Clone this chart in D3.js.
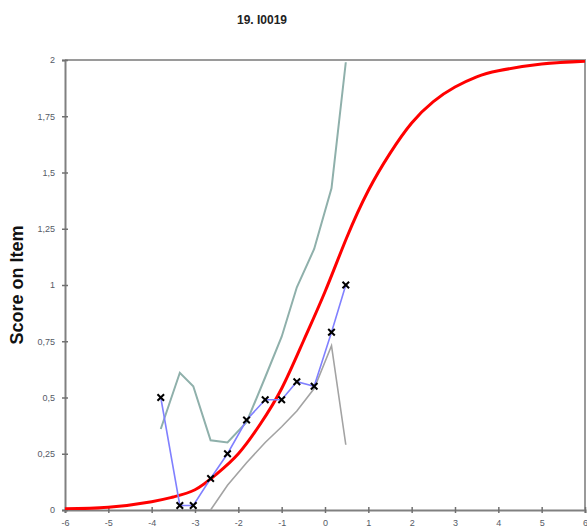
<!DOCTYPE html>
<html>
<head>
<meta charset="utf-8">
<script src="https://cdn.jsdelivr.net/npm/d3@7"></script>
<style>
  body { margin: 0; background: #fff; }
  svg { display: block; font-family: Arial, "Liberation Sans", sans-serif; }
</style>
</head>
<body>
<svg id="chart"></svg>
<script>
const width = 587
const height = 532

// Expected score curve (model)
const curveX = [-6, -5, -4, -3.5, -3, -2.5, -2, -1.5, -1, -0.5, 0, 0.5, 1, 1.5, 2, 2.5, 3, 3.5, 4, 5, 6]
const curveY = [0.005, 0.012, 0.037, 0.058, 0.09, 0.16, 0.25, 0.38, 0.54, 0.75, 0.97, 1.21, 1.42, 1.585, 1.72, 1.815, 1.88, 1.925, 1.952, 1.982, 1.995]

// Observed class intervals
const obsX = [-3.79, -3.35, -3.04, -2.64, -2.25, -1.81, -1.38, -1.0, -0.65, -0.25, 0.15, 0.48]
const obsY = [0.5, 0.02, 0.02, 0.14, 0.25, 0.40, 0.49, 0.49, 0.57, 0.55, 0.79, 1.0]
const upperY = [0.36, 0.61, 0.55, 0.31, 0.30, 0.39, 0.59, 0.77, 0.99, 1.16, 1.43, 1.99]
const lowerY = [0, 0, 0, 0, 0.11, 0.21, 0.30, 0.37, 0.44, 0.54, 0.73, 0.29]

const xTicks = [-6, -5, -4, -3, -2, -1, 0, 1, 2, 3, 4, 5, 6]
const yTicks = [0, 0.25, 0.5, 0.75, 1, 1.25, 1.5, 1.75, 2]

const margin = { top: 60, right: 2, bottom: 22, left: 65 }

const svg = d3.select('#chart')
  .attr('width', width)
  .attr('height', height)

const x = d3.scaleLinear().domain([-6, 6]).range([margin.left, width - margin.right])
const y = d3.scaleLinear().domain([0, 2]).range([height - margin.bottom, margin.top])

const fmt = d => String(d).replace('.', ',')

svg.append('defs').append('clipPath').attr('id', 'plot')
  .append('rect')
  .attr('x', x(-6)).attr('y', y(2))
  .attr('width', x(6) - x(-6)).attr('height', y(0) - y(2))

// frame (top and right)
svg.append('path')
  .attr('d', `M${x(-6)},${y(2)}H${x(6)}V${y(0)}`)
  .attr('fill', 'none')
  .attr('stroke', '#9a9a9a')
  .attr('stroke-width', 2)

// Axes
const xAxis = svg.append('g')
  .attr('transform', `translate(0,${y(0)})`)
  .call(d3.axisBottom(x).tickValues(xTicks).tickFormat(d => d).tickSize(3).tickPadding(7))
const yAxis = svg.append('g')
  .attr('transform', `translate(${x(-6)},0)`)
  .call(d3.axisLeft(y).tickValues(yTicks).tickFormat(fmt).tickSize(3).tickPadding(7))

;[xAxis, yAxis].forEach(a => {
  a.select('.domain').attr('stroke', '#808080').attr('stroke-width', 2)
  a.selectAll('.tick line').attr('stroke', '#707070').attr('stroke-width', 1.5)
  a.selectAll('.tick text').attr('fill', '#555a66').attr('font-size', 9)
})
xAxis.selectAll('.tick line').attr('y1', -3)
yAxis.selectAll('.tick line').attr('x1', 3)

const g = svg.append('g').attr('clip-path', 'url(#plot)')

const line = d3.line().x(d => x(d[0])).y(d => y(d[1]))

g.append('path')
  .datum(obsX.map((d, i) => [d, lowerY[i]]))
  .attr('d', line)
  .attr('fill', 'none')
  .attr('stroke', '#a3a3a3')
  .attr('stroke-width', 1.6)

g.append('path')
  .datum(obsX.map((d, i) => [d, upperY[i]]))
  .attr('d', line)
  .attr('fill', 'none')
  .attr('stroke', '#8fb0ab')
  .attr('stroke-width', 2)

g.append('path')
  .datum(curveX.map((d, i) => [d, curveY[i]]))
  .attr('d', d3.line().x(d => x(d[0])).y(d => y(d[1])).curve(d3.curveNatural))
  .attr('fill', 'none')
  .attr('stroke', '#ff0000')
  .attr('stroke-width', 3)

g.append('path')
  .datum(obsX.map((d, i) => [d, obsY[i]]))
  .attr('d', line)
  .attr('fill', 'none')
  .attr('stroke', '#8080ff')
  .attr('stroke-width', 1.6)

svg.selectAll('.mark')
  .data(obsX.map((d, i) => [d, obsY[i]]))
  .enter().append('path')
  .attr('class', 'mark')
  .attr('transform', d => `translate(${x(d[0])},${y(d[1])})`)
  .attr('d', d3.symbol(d3.symbolX, 30))
  .attr('fill', 'none')
  .attr('stroke', '#000')
  .attr('stroke-width', 2)

// Title
svg.append('text')
  .attr('x', 262)
  .attr('y', 24)
  .attr('text-anchor', 'middle')
  .attr('font-size', 12)
  .attr('font-weight', 'bold')
  .attr('fill', '#222')
  .text('19. I0019')

// Y label
svg.append('text')
  .attr('transform', `translate(23,${285}) rotate(-90)`)
  .attr('text-anchor', 'middle')
  .attr('font-size', 18)
  .attr('font-weight', 'bold')
  .attr('fill', '#111')
  .text('Score on Item')
</script>
</body>
</html>
